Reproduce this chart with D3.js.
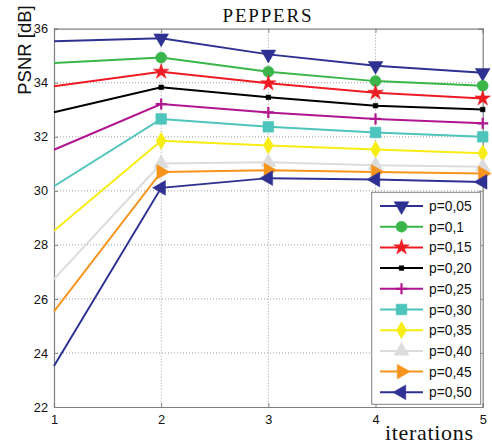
<!DOCTYPE html>
<html><head><meta charset="utf-8">
<script src="https://cdn.jsdelivr.net/npm/d3@7"></script>
<style>body{margin:0;background:#fff}svg{display:block}</style>
</head><body>
<svg id="c" width="492" height="445"></svg>
<script>
const iterations = [1, 2, 3, 4, 5];
const seriesNames = ["p=0,05","p=0,1","p=0,15","p=0,20","p=0,25","p=0,30","p=0,35","p=0,40","p=0,45","p=0,50"];
const p005 = [35.54, 35.65, 35.05, 34.63, 34.37];
const p010 = [34.73, 34.93, 34.41, 34.06, 33.89];
const p015 = [33.87, 34.41, 33.98, 33.63, 33.42];
const p020 = [32.91, 33.83, 33.46, 33.15, 33.01];
const p025 = [31.52, 33.21, 32.90, 32.66, 32.50];
const p030 = [30.17, 32.66, 32.37, 32.16, 32.00];
const p035 = [28.52, 31.85, 31.68, 31.53, 31.39];
const p040 = [26.73, 31.01, 31.06, 30.95, 30.89];
const p045 = [25.54, 30.70, 30.76, 30.70, 30.64];
const p050 = [23.52, 30.11, 30.47, 30.42, 30.33];
const seriesValues = [p005,p010,p015,p020,p025,p030,p035,p040,p045,p050];
const colors = ["#2e3192","#39b54a","#ed1c24","#000000","#b0168f","#4dc4bc","#f7ec13","#dcdcdc","#f7941d","#2e3192"];
const markers = ["triDown","circle","star","dot","plus","square","diamond","triUp","triRight","triLeft"];
const yTicks = [22,24,26,28,30,32,34,36];
const xTicks = [1,2,3,4,5];

const svg = d3.select("#c");
const L = 54, R = 482.7, T = 28.7, B = 407;
const x = d3.scaleLinear().domain([1,5]).range([L,R]);
const y = d3.scaleLinear().domain([22,36]).range([B,T]);

// grid
const g = svg.append("g");
g.selectAll(".gx").data(xTicks.slice(1,-1)).enter().append("line")
  .attr("x1",d=>x(d)).attr("x2",d=>x(d)).attr("y1",T).attr("y2",B)
  .attr("stroke","#888").attr("stroke-width",0.8).attr("stroke-dasharray","1,2");
g.selectAll(".gy").data(yTicks.slice(1,-1)).enter().append("line")
  .attr("y1",d=>y(d)).attr("y2",d=>y(d)).attr("x1",L).attr("x2",R)
  .attr("stroke","#888").attr("stroke-width",0.8).attr("stroke-dasharray","1,2");

// axes via d3
const axL = svg.append("g").attr("transform",`translate(${L},0)`)
  .call(d3.axisLeft(y).tickValues(yTicks).tickSize(-4).tickPadding(6).tickFormat(d3.format("d")));
const axB = svg.append("g").attr("transform",`translate(0,${B})`)
  .call(d3.axisBottom(x).tickValues(xTicks).tickSize(-4).tickPadding(8).tickFormat(d3.format("d")));
const axR = svg.append("g").attr("transform",`translate(${R},0)`)
  .call(d3.axisRight(y).tickValues(yTicks).tickSize(-4).tickFormat(""));
const axT = svg.append("g").attr("transform",`translate(0,${T})`)
  .call(d3.axisTop(x).tickValues(xTicks).tickSize(-4).tickFormat(""));
[axL,axB,axR,axT].forEach(a=>{
  a.selectAll("path.domain").attr("stroke","#808080").attr("stroke-width",1.2);
  a.selectAll(".tick line").attr("stroke","#808080");
  a.selectAll("text").attr("font-family","Liberation Sans, Arial, sans-serif").attr("font-size",12.8).attr("fill","#111");
});

function symPath(m){
  switch(m){
    case "triDown": return {d:d3.symbol(d3.symbolTriangle,95)(), rot:180};
    case "triUp": return {d:d3.symbol(d3.symbolTriangle,95)(), rot:0};
    case "triRight": return {d:d3.symbol(d3.symbolTriangle,95)(), rot:90};
    case "triLeft": return {d:d3.symbol(d3.symbolTriangle,95)(), rot:-90};
    case "circle": return {d:d3.symbol(d3.symbolCircle,95)(), rot:0};
    case "star": return {d:d3.symbol(d3.symbolStar,75)(), rot:0};
    case "dot": return {d:d3.symbol(d3.symbolSquare,22)(), rot:0};
    case "plus": return {d:"M-5.5,0H5.5M0,-5.5V5.5", rot:0, stroke:true};
    case "square": return {d:d3.symbol(d3.symbolSquare,115)(), rot:0};
    case "diamond": return {d:d3.symbol(d3.symbolDiamond,85)(), rot:0};
  }
}
function drawMarker(sel, m, c, cx, cy){
  const s = symPath(m);
  const p = sel.append("path").attr("d",s.d)
    .attr("transform",`translate(${cx},${cy}) rotate(${s.rot})`);
  if(s.stroke) p.attr("fill","none").attr("stroke",c).attr("stroke-width",2.2);
  else p.attr("fill",c).attr("stroke",c).attr("stroke-width",0.5);
}

const line = d3.line().x((d,i)=>x(iterations[i])).y(d=>y(d));
const plot = svg.append("g");
seriesValues.forEach((vals,k)=>{
  plot.append("path").datum(vals).attr("d",line).attr("fill","none")
    .attr("stroke",colors[k]).attr("stroke-width",2);
  vals.forEach((v,i)=>{ if(i>0) drawMarker(plot, markers[k], colors[k], x(iterations[i]), y(v)); });
});

// legend
const lg = svg.append("g");
lg.append("rect").attr("x",371.7).attr("y",192.3).attr("width",109).attr("height",112)
  .attr("height",212).attr("fill","#fff").attr("stroke","#808080").attr("stroke-width",1);
seriesNames.forEach((n,k)=>{
  const ly = 206 + k*20.7;
  lg.append("line").attr("x1",380).attr("x2",423).attr("y1",ly).attr("y2",ly)
    .attr("stroke",colors[k]).attr("stroke-width",2);
  drawMarker(lg, markers[k], colors[k], 401.5, ly);
  lg.append("text").attr("x",429).attr("y",ly+5).text(n)
    .attr("font-family","Liberation Sans, Arial, sans-serif").attr("font-size",13.8).attr("fill","#111");
});

// titles
svg.append("text").attr("x",267).attr("y",22).attr("text-anchor","middle")
  .attr("font-family","Liberation Serif, Times New Roman, serif").attr("font-size",19)
  .attr("textLength",89).attr("lengthAdjust","spacing").attr("fill","#111").text("PEPPERS");
svg.append("text").attr("transform","translate(30.7,50) rotate(-90)").attr("text-anchor","middle")
  .attr("font-family","Liberation Sans, Arial, sans-serif").attr("font-size",18.5).attr("fill","#111").text("PSNR [dB]");
svg.append("text").attr("x",385).attr("y",440)
  .attr("font-family","Liberation Serif, Times New Roman, serif").attr("font-size",22)
  .attr("textLength",88).attr("lengthAdjust","spacing").attr("fill","#111").text("iterations");
</script>
</body></html>
